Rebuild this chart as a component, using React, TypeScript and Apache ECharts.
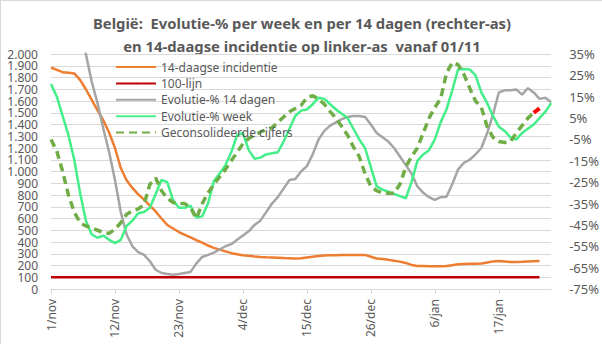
import React, { useEffect, useRef } from "react";
import * as echarts from "echarts";

// Categories: 1/nov .. 26/jan
const months: [string, number][] = [["nov", 30], ["dec", 31], ["jan", 26]];
const dates: string[] = [];
months.forEach(([m, n]) => {
  for (let d = 1; d <= n; d++) dates.push(`${d}/${m}`);
});

const titleLine1 = "België:  Evolutie-% per week en per 14 dagen (rechter-as)";
const titleLine2 = "en 14-daagse incidentie op linker-as  vanaf 01/11";

// Left axis: 14-daagse incidentie (days 0..84)
const incidentie = [
  1885, 1865, 1845, 1840, 1835, 1780, 1700, 1610, 1520, 1435,
  1330, 1200, 1030, 925, 860, 805, 760, 710, 660, 600,
  545, 515, 485, 460, 440, 415, 395, 370, 350, 335,
  320, 305, 295, 287, 282, 277, 273, 270, 268, 266,
  263, 261, 259, 262, 268, 274, 280, 285, 287, 288,
  289, 290, 290, 290, 290, 275, 260, 255, 248, 240,
  233, 222, 205, 195, 195, 194, 193, 194, 195, 203,
  210, 212, 214, 215, 217, 225, 235, 239, 235, 230,
  229, 231, 234, 237, 239,
];
const lijnWaarde = 100;
const lijnDagen = 85;

// Left axis range
const leftMin = 0;
const leftMax = 2000;
const leftStep = 100;

// Right axis (%): Evolutie-% 14 dagen (days 0..86)
const evol14 = [
  95, 85, 75, 65, 55, 46, 35, 22, 12, 0,
  -11, -24, -39, -49.5, -55, -57.7, -59, -62, -66, -67.5,
  -68, -68.3, -68, -67.5, -67, -63, -60, -59, -58, -56.5,
  -55, -54, -52, -50, -48, -45, -43, -39, -35, -32,
  -28, -24, -23.5, -20, -17.5, -12, -5, -1, 1.5, 3,
  4.5, 5.5, 6, 6, 5.5, 2, -2, -4, -6, -9,
  -13, -17, -21, -27, -30, -32, -33.3, -32, -31.8, -26,
  -19, -16, -14.5, -12, -9, -2, 6.6, 17, 18, 18,
  18.4, 16, 19, 17, 14, 14.5, 12.4,
];
// Evolutie-% week (days 0..86)
const evolWeek = [
  21, 15, 6, -3, -14.5, -30, -43, -49.5, -51, -50,
  -52, -53.5, -52, -45.5, -43, -39.5, -39, -37, -30.5, -24,
  -25, -33.5, -37, -37, -36, -41.5, -41, -35, -24.5, -21,
  -17, -11, -3, -2, -10, -14, -13.5, -12, -11.5, -11,
  -6, 0, 6, 8.5, 9, 11.5, 14.5, 14, 11.5, 9,
  7, 5, 0, -5, -9, -18, -27, -28.5, -29.5, -30.5,
  -31.5, -32.5, -25, -15, -12, -10, -5, 3, 9, 18,
  27.8, 28, 27.8, 25, 17, 12, 6, 1, -1, -4,
  -5, -2, 0, 2, 5, 8, 12,
];
// Geconsolideerde cijfers (days 0..83)
const geconsolideerd = [
  -5, -10.5, -20, -31, -39, -44, -45.5, -46.5, -47.5, -48.5,
  -49, -47, -44, -40, -38.5, -37.5, -35.5, -26, -23, -29,
  -32.5, -34.5, -35, -35, -37, -42, -35, -30, -26, -22.5,
  -19, -15, -11, -7, -4.5, -3, -1.5, -0.5, 0.5, 3,
  5.5, 8, 9.5, 11, 14.5, 15.5, 14, 11.5, 8, 5,
  1, -3, -8.5, -13, -21, -27, -29, -30, -30.2, -30.2,
  -26, -18, -13, -9, -2, 5, 10, 14, 26, 31,
  30, 25.5, 19, 13, 10, 1, -4, -6, -6.4, -6,
  -2, 1.5, 5, 7.5,
];
// Red end segment of consolidated line
const roodStart = 83;
const roodStaart = [7.5, 9.5];

// Right axis range (%)
const pctMin = -75;
const pctMax = 35;
const pctStep = 10;

const names = [
  "14-daagse incidentie",
  "100-lijn",
  "Evolutie-% 14 dagen",
  "Evolutie-% week",
  "Geconsolideerde cijfers",
];

const shift = (arr: (number | null)[]) => arr.map((v) => (v == null ? null : v - pctMin));
const fmtThousands = (v: number) =>
  v >= 1000 ? `${Math.floor(v / 1000)}.${String(v % 1000).padStart(3, "0")}` : `${v}`;

export default function App() {
  const ref = useRef<HTMLDivElement>(null);
  useEffect(() => {
    document.body.style.margin = "0";
    if (!ref.current) return;
    const chart = echarts.init(ref.current, undefined, { renderer: "svg" });
    const font = "'Noto Sans', sans-serif";
    const txt = "#595959";
    const grid = "#D9D9D9";
    const lijn = Array.from({ length: lijnDagen }, () => lijnWaarde);
    const rood: (number | null)[] = dates.map((_, i) =>
      i >= roodStart && i < roodStart + roodStaart.length ? roodStaart[i - roodStart] : null
    );
    const leftLabel = {
      fontSize: 12,
      color: txt,
      margin: 13,
      fontFamily: font,
      formatter: fmtThousands,
    };
    chart.setOption({
      animation: false,
      textStyle: { fontFamily: font },
      graphic: [
        {
          type: "text", x: 302, y: 23,
          style: { text: titleLine1, fill: txt, font: `bold 14.8px ${font}`, textAlign: "center", textVerticalAlign: "middle" },
        },
        {
          type: "text", x: 302, y: 46,
          style: { text: titleLine2, fill: txt, font: `bold 14.8px ${font}`, textAlign: "center", textVerticalAlign: "middle" },
        },
      ],
      legend: {
        data: names,
        orient: "vertical",
        left: 110,
        top: 55,
        itemWidth: 40,
        itemHeight: 2,
        itemGap: 2.4,
        textStyle: { fontSize: 12, color: txt, lineHeight: 14, fontFamily: font },
      },
      grid: { left: 51, right: 48, top: 54, bottom: 55, containLabel: false },
      xAxis: {
        type: "category",
        data: dates,
        boundaryGap: false,
        axisLine: { lineStyle: { color: grid } },
        axisTick: { show: true, interval: 10, length: 5, lineStyle: { color: grid } },
        axisLabel: { interval: 10, rotate: 90, fontSize: 12, color: txt, margin: 10, fontFamily: font },
        splitLine: { show: false },
      },
      yAxis: [
        {
          // left axis: end labels (0 and 2.000)
          type: "value",
          position: "left",
          offset: 0,
          min: leftMin,
          max: leftMax,
          interval: leftMax - leftMin,
          axisLine: { show: false },
          axisTick: { show: false },
          splitLine: { show: false },
          axisLabel: { ...leftLabel, showMinLabel: true, showMaxLabel: true },
        },
        {
          // left axis: inner labels and grid lines every 100
          type: "value",
          position: "left",
          offset: 0,
          min: leftMin,
          max: leftMax,
          interval: leftStep,
          axisLine: { show: false },
          axisTick: { show: false },
          splitLine: { lineStyle: { color: grid, width: 1 } },
          axisLabel: { ...leftLabel, showMinLabel: false, showMaxLabel: false, hideOverlap: false },
        },
        {
          type: "value",
          position: "right",
          offset: 0,
          min: 0,
          max: pctMax - pctMin,
          interval: pctStep,
          axisLine: { show: false },
          axisTick: { show: false },
          splitLine: { show: false },
          axisLabel: {
            fontSize: 13,
            color: txt,
            margin: 18,
            fontFamily: font,
            showMinLabel: true,
            showMaxLabel: true,
            formatter: (v: number) => `${Math.round(v + pctMin)}%`,
          },
        },
      ],
      series: [
        {
          name: names[0], type: "line", yAxisIndex: 0, data: incidentie, symbol: "none",
          lineStyle: { color: "#ED7D31", width: 2.5 }, itemStyle: { color: "#ED7D31" },
        },
        {
          name: names[1], type: "line", yAxisIndex: 0, data: lijn, symbol: "none",
          lineStyle: { color: "#C00000", width: 2.5 }, itemStyle: { color: "#C00000" },
        },
        {
          name: names[2], type: "line", yAxisIndex: 2, data: shift(evol14), symbol: "none", clip: true,
          lineStyle: { color: "#A5A5A5", width: 2.5 }, itemStyle: { color: "#A5A5A5" },
        },
        {
          name: names[3], type: "line", yAxisIndex: 2, data: shift(evolWeek), symbol: "none",
          lineStyle: { color: "#44EE88", width: 2.5 }, itemStyle: { color: "#44EE88" },
        },
        {
          name: names[4], type: "line", yAxisIndex: 2, data: shift(geconsolideerd), symbol: "none",
          lineStyle: { color: "#70AD47", width: 3.5, type: [8, 5] }, itemStyle: { color: "#70AD47" },
        },
        {
          name: "rood", type: "line", yAxisIndex: 2, data: shift(rood), symbol: "none",
          lineStyle: { color: "#FF0000", width: 4 }, itemStyle: { color: "#FF0000" },
        },
      ],
    });
    return () => chart.dispose();
  }, []);
  return (
    <div
      ref={ref}
      style={{ width: 602, height: 344, boxShadow: "inset 1px 1px 0 #D9D9D9" }}
    />
  );
}
